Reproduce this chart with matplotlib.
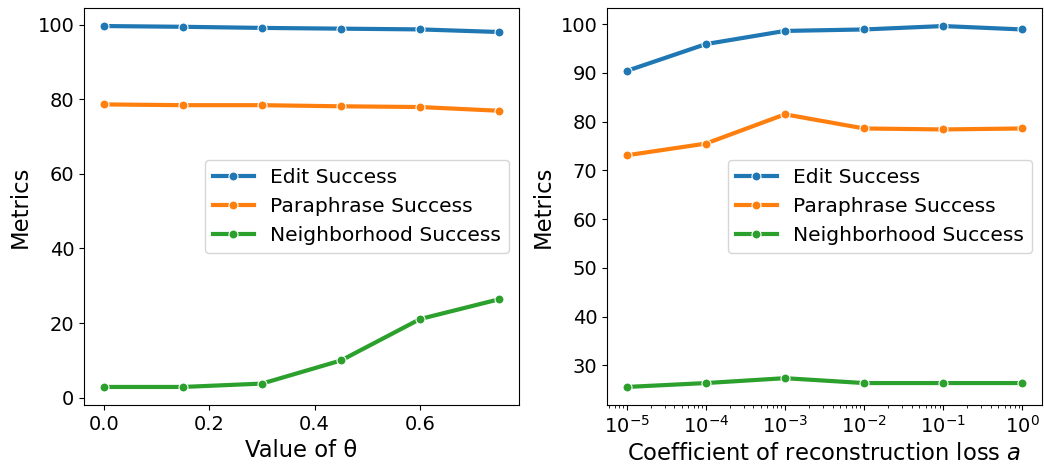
import matplotlib
matplotlib.use("Agg")
import matplotlib.pyplot as plt
import numpy as np

theta = [0.0, 0.15, 0.3, 0.45, 0.6, 0.75]
theta_edit = [99.6, 99.4, 99.1, 98.9, 98.7, 98.0]
theta_para = [78.6, 78.4, 78.4, 78.1, 77.9, 76.9]
theta_neigh = [2.9, 2.9, 3.8, 10.0, 21.1, 26.4]

coef = [1e-5, 1e-4, 1e-3, 1e-2, 1e-1, 1e0]
coef_edit = [90.4, 95.9, 98.6, 98.9, 99.6, 98.9]
coef_para = [73.1, 75.5, 81.5, 78.6, 78.4, 78.6]
coef_neigh = [25.6, 26.4, 27.4, 26.4, 26.4, 26.4]

labels = ["Edit Success", "Paraphrase Success", "Neighborhood Success"]
colors = ["#1f77b4", "#ff7f0e", "#2ca02c"]

fig = plt.figure(figsize=(10.44, 4.66), dpi=100)
ax1 = fig.add_axes([84/1044, 1-405/466, 435/1044, 397/466])
ax2 = fig.add_axes([607/1044, 1-405/466, 435/1044, 397/466])

def draw(ax, x, series):
    for ys, lab, c in zip(series, labels, colors):
        ax.plot(x, ys, color=c, lw=3, marker='o', ms=6.5, mec='white', mew=0.8, label=lab)
    ax.tick_params(labelsize=14)
    ax.set_ylabel("Metrics", fontsize=16.3)
    ax.legend(loc='center right', fontsize=14.6, framealpha=0.8)

draw(ax1, theta, [theta_edit, theta_para, theta_neigh])
ax1.set_xlabel("Value of θ", fontsize=16.3)

draw(ax2, coef, [coef_edit, coef_para, coef_neigh])
ax2.set_xscale('log')
ax2.set_xlabel("Coefficient of reconstruction loss $a$", fontsize=16.3)

fig.savefig("out.png", dpi=100)
